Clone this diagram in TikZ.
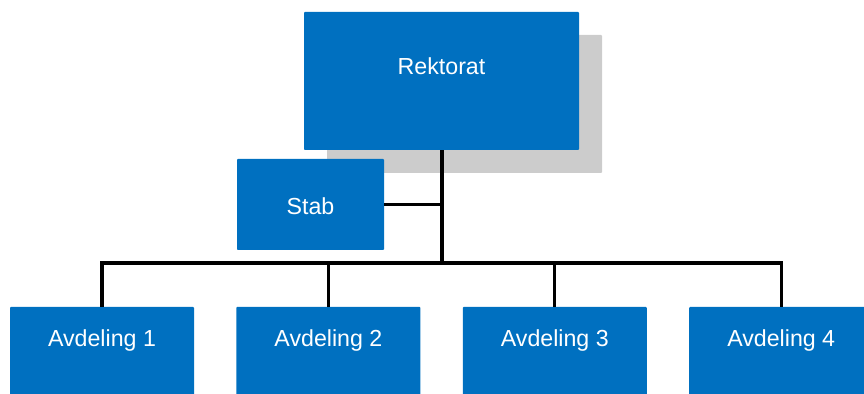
\documentclass[tikz,border=0pt]{standalone}
\usepackage{fontspec}
\setmainfont{Liberation Sans}
\usepackage{tikz}
\definecolor{orgblue}{HTML}{0070C0}
\definecolor{orgshade}{HTML}{CCCCCC}
\tikzset{
        orgbox/.style={rectangle,fill=orgblue,draw=none,rounded corners=0.6pt,inner sep=0pt},
        shadebox/.style={rectangle,fill=orgshade,draw=none,rounded corners=0.6pt,inner sep=0pt},
        orgtext/.style={text=white,inner sep=0pt,font=\fontsize{16.5}{20}\selectfont},
        link/.style={line width=2.3pt,draw=black}
    }

\begin{document}
\begin{tikzpicture}

\useasboundingbox (0,0) rectangle (21.6,9.85);
\clip (0,0) rectangle (21.6,9.85);

\draw (11.6125,7.25) node(SHADE)[shadebox,minimum width=6.875cm,minimum height=3.45cm]{ };
\draw (11.0375,7.825) node(REK)[orgbox,minimum width=6.875cm,minimum height=3.45cm]{ };
\draw (7.7625,4.7375) node(STAB)[orgbox,minimum width=3.675cm,minimum height=2.275cm]{ };
\draw (2.55,0.45) node(A1)[orgbox,minimum width=4.6cm,minimum height=3.45cm]{ };
\draw (8.21,0.45) node(A2)[orgbox,minimum width=4.6cm,minimum height=3.45cm]{ };
\draw (13.87,0.45) node(A3)[orgbox,minimum width=4.6cm,minimum height=3.45cm]{ };
\draw (19.53,0.45) node(A4)[orgbox,minimum width=4.6cm,minimum height=3.45cm]{ };

\draw (11.0375,8.2) node(REKTXT)[orgtext]{Rektorat};
\draw (7.7625,4.7) node(STABTXT)[orgtext]{Stab};
\draw (2.55,1.33) node(A1TXT)[orgtext]{Avdeling 1};
\draw (8.21,1.33) node(A2TXT)[orgtext]{Avdeling 2};
\draw (13.87,1.33) node(A3TXT)[orgtext]{Avdeling 3};
\draw (19.53,1.33) node(A4TXT)[orgtext]{Avdeling 4};

\coordinate (JOIN) at (11.05,3.275);

\draw[link] (REK.south -| JOIN) -- (JOIN);
\draw[link] (STAB.east) -- (STAB.east -| JOIN);
\draw[link] (A1.north) -- (A1.north |- JOIN) -- (A4.north |- JOIN) -- (A4.north);
\draw[link] (A2.north) -- (A2.north |- JOIN);
\draw[link] (A3.north) -- (A3.north |- JOIN);

\end{tikzpicture}
\end{document}
